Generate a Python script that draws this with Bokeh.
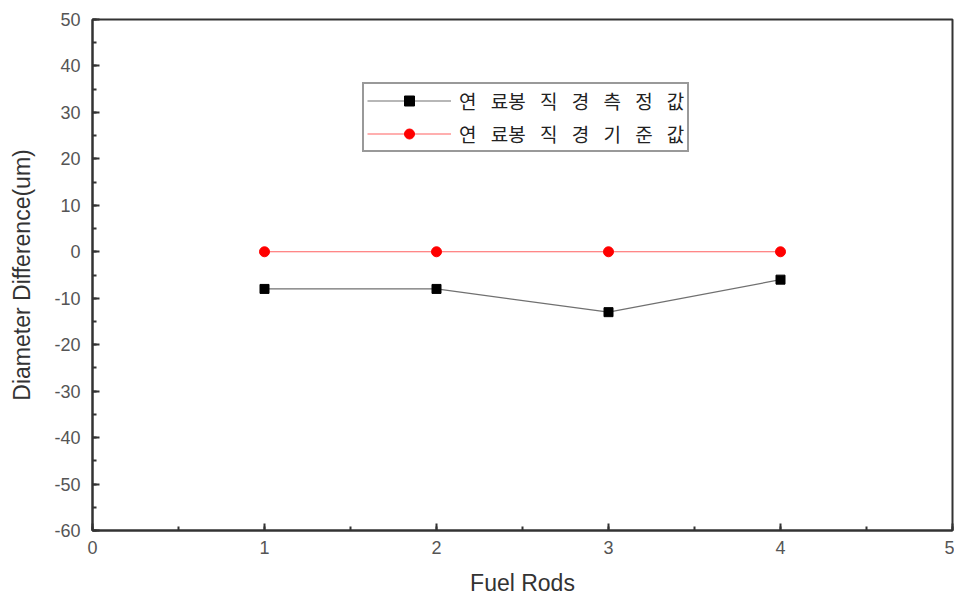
from bokeh.plotting import figure
from bokeh.models import SingleIntervalTicker, Range1d, Legend, LegendItem, PrintfTickFormatter
from bokeh.embed import file_html
from bokeh.resources import INLINE

# Data
fuel_rods = [1, 2, 3, 4]
measured = [-8, -8, -13, -6]
reference = [0, 0, 0, 0]
SP = "\u2002\u2005"
label_measured = SP.join(["연", "료봉", "직", "경", "측", "정", "값"])
label_reference = SP.join(["연", "료봉", "직", "경", "기", "준", "값"])

p = figure(width=954, height=601, output_backend="svg", toolbar_location=None,
           x_range=Range1d(0, 5), y_range=Range1d(-60, 50),
           min_border_left=92, min_border_right=2, min_border_top=19, min_border_bottom=71)

p.xgrid.visible = False
p.ygrid.visible = False
p.outline_line_color = "#333333"
p.outline_line_width = 2
p.outline_line_alpha = 1.0

l1 = p.line(fuel_rods, measured, line_color="#707070", line_width=1.2)
s1 = p.scatter(fuel_rods, measured, marker="square", size=9, fill_color="black", line_color="black")
l2 = p.line(fuel_rods, reference, line_color="#ff6060", line_width=1.2)
s2 = p.scatter(fuel_rods, reference, marker="circle", size=10, fill_color="red", line_color="red")

legend = Legend(items=[LegendItem(label=label_measured, renderers=[l1, s1]),
                       LegendItem(label=label_reference, renderers=[l2, s2])],
                location=(270, 378))
legend.label_text_font = "Noto Sans CJK KR"
legend.label_text_font_size = "19px"
legend.label_text_color = "#222222"
legend.glyph_width = 84
legend.glyph_height = 25
legend.label_height = 25
legend.spacing = 6
legend.padding = 3
legend.margin = 0
legend.label_standoff = 8
legend.border_line_color = "#333333"
legend.border_line_width = 2
legend.background_fill_alpha = 1.0
p.add_layout(legend)

for ax in (p.xaxis[0], p.yaxis[0]):
    ax.axis_line_color = "#333333"
    ax.axis_line_width = 2
    ax.major_tick_line_color = "#333333"
    ax.major_tick_line_width = 2
    ax.minor_tick_line_color = "#333333"
    ax.minor_tick_line_width = 2
    ax.major_tick_in = 7
    ax.major_tick_out = 0
    ax.minor_tick_in = 4
    ax.minor_tick_out = 0
    ax.formatter = PrintfTickFormatter(format="%d")
    ax.major_label_text_font = "Liberation Sans"
    ax.major_label_text_font_size = "18px"
    ax.major_label_text_color = "#555555"
    ax.axis_label_text_font = "Liberation Sans"
    ax.axis_label_text_font_size = "23px"
    ax.axis_label_text_font_style = "normal"
    ax.axis_label_text_color = "#333333"

p.xaxis.ticker = SingleIntervalTicker(interval=1, num_minor_ticks=2)
p.yaxis.ticker = SingleIntervalTicker(interval=10, num_minor_ticks=2)
p.xaxis.axis_label = "Fuel Rods"
p.yaxis.axis_label = "Diameter Difference(um)"
p.xaxis.major_label_standoff = 10
p.xaxis.axis_label_standoff = 13
p.yaxis.major_label_standoff = 12
p.yaxis.axis_label_standoff = 16

open("out.html", "w").write(file_html(p, INLINE))
